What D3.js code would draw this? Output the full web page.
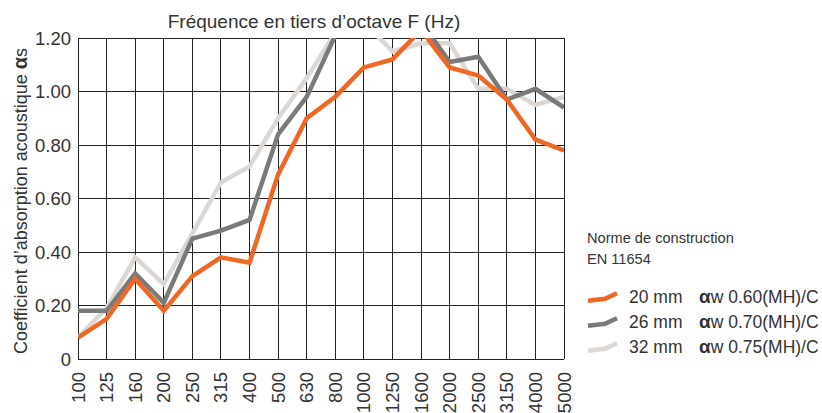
<!DOCTYPE html>
<html lang="fr">
<head>
<meta charset="UTF-8">
<title>Coefficient d'absorption</title>
<script src="https://d3js.org/d3.v7.min.js"></script>
<style>
  body { margin: 0; background: #fff; }
  svg { display: block; font-family: "Liberation Sans", Arial, sans-serif; }
</style>
</head>
<body>
<svg width="822" height="413"></svg>
<script>
// tiers d'octave
const freqs = ["100","125","160","200","250","315","400","500","630","800","1000","1250","1600","2000","2500","3150","4000","5000"];
const yTicks = [0, 0.2, 0.4, 0.6, 0.8, 1.0, 1.2];

// valeurs (au-dessus de 1.20 = coupé)
const s20 = [0.08,0.15,0.30,0.18,0.31,0.38,0.36,0.69,0.90,0.98,1.09,1.12,1.23,1.09,1.06,0.97,0.82,0.78];
const s26 = [0.18,0.18,0.32,0.21,0.45,0.48,0.52,0.84,0.98,1.21,1.30,1.30,1.26,1.11,1.13,0.97,1.01,0.94];
const s32 = [0.08,0.19,0.38,0.28,0.47,0.66,0.72,0.90,1.05,1.22,1.26,1.15,1.18,1.18,1.01,1.01,0.95,0.98];

const series = [
  {name: "32 mm", aw: "w 0.75(MH)/C", values: s32, color: "#dcd7d3"},
  {name: "26 mm", aw: "w 0.70(MH)/C", values: s26, color: "#7a7a7a"},
  {name: "20 mm", aw: "w 0.60(MH)/C", values: s20, color: "#ef6723"}
];

const svg = d3.select("svg");
const margin = {top: 38, left: 78};
const width = 486, height = 321;
const g = svg.append("g").attr("transform", `translate(${margin.left},${margin.top})`);

const x = d3.scalePoint().domain(freqs).range([0, width]);
const y = d3.scaleLinear().domain([0, 1.2]).range([height, 0]);

// grille
g.selectAll(".vg").data(freqs).join("line")
  .attr("x1", d => x(d)).attr("x2", d => x(d))
  .attr("y1", 0).attr("y2", height)
  .attr("stroke", "#222").attr("stroke-width", 1).attr("shape-rendering", "crispEdges");
g.selectAll(".hg").data(yTicks).join("line")
  .attr("x1", 0).attr("x2", width)
  .attr("y1", d => y(d)).attr("y2", d => y(d))
  .attr("stroke", "#222").attr("stroke-width", 1).attr("shape-rendering", "crispEdges");

// axes
g.selectAll(".yt").data(yTicks).join("text")
  .attr("x", -7).attr("y", d => y(d) + 6.5)
  .attr("text-anchor", "end").attr("font-size", 18.5).attr("fill", "#333")
  .text(d => d === 0 ? "0" : d.toFixed(2));

g.selectAll(".xt").data(freqs).join("text")
  .attr("transform", d => `translate(${x(d) + 6.5},${height + 13}) rotate(-90)`)
  .attr("text-anchor", "end").attr("font-size", 18.5).attr("fill", "#333")
  .text(d => d);

svg.append("text")
  .attr("x", 314).attr("y", 28)
  .attr("text-anchor", "middle").attr("font-size", 19).attr("fill", "#333")
  .text("Fréquence en tiers d’octave F (Hz)");

const yl = svg.append("text")
  .attr("transform", "translate(27,201) rotate(-90)")
  .attr("text-anchor", "middle").attr("font-size", 18).attr("fill", "#333");
yl.append("tspan").text("Coefficient d’absorption acoustique ");
yl.append("tspan").attr("font-weight", "bold").attr("font-size", 20).text("α");
yl.append("tspan").text("s");

// courbes
svg.append("clipPath").attr("id", "clip")
  .append("rect").attr("x", 0).attr("y", 0).attr("width", width).attr("height", height);

const line = d3.line().x((d, i) => x(freqs[i])).y(d => y(d));
g.append("g").attr("clip-path", "url(#clip)")
  .selectAll("path").data(series).join("path")
  .attr("d", d => line(d.values))
  .attr("fill", "none").attr("stroke", d => d.color)
  .attr("stroke-width", 4.5).attr("stroke-linejoin", "miter");

// légende
const lg = svg.append("g").attr("transform", "translate(587,0)");
lg.append("text").attr("x", 0).attr("y", 243).attr("font-size", 14.6).attr("fill", "#333").text("Norme de construction");
lg.append("text").attr("x", 0).attr("y", 264).attr("font-size", 14.6).attr("fill", "#333").text("EN 11654");

const legendOrder = [series[2], series[1], series[0]];
const swatch = d3.line();
const items = lg.selectAll(".item").data(legendOrder).join("g")
  .attr("transform", (d, i) => `translate(0,${303.3 + i * 25})`);
items.append("path")
  .attr("d", swatch([[1, -2.5], [18, -4.5], [30, -10]]))
  .attr("fill", "none").attr("stroke", d => d.color).attr("stroke-width", 4.5);
items.append("text").attr("x", 42).attr("y", 0).attr("font-size", 17.5).attr("fill", "#333").text(d => d.name);
const aw = items.append("text").attr("x", 112).attr("y", 0).attr("font-size", 17.5).attr("fill", "#333");
aw.append("tspan").attr("font-weight", "bold").attr("font-size", 19).text("α");
aw.append("tspan").text(d => d.aw);
</script>
</body>
</html>
